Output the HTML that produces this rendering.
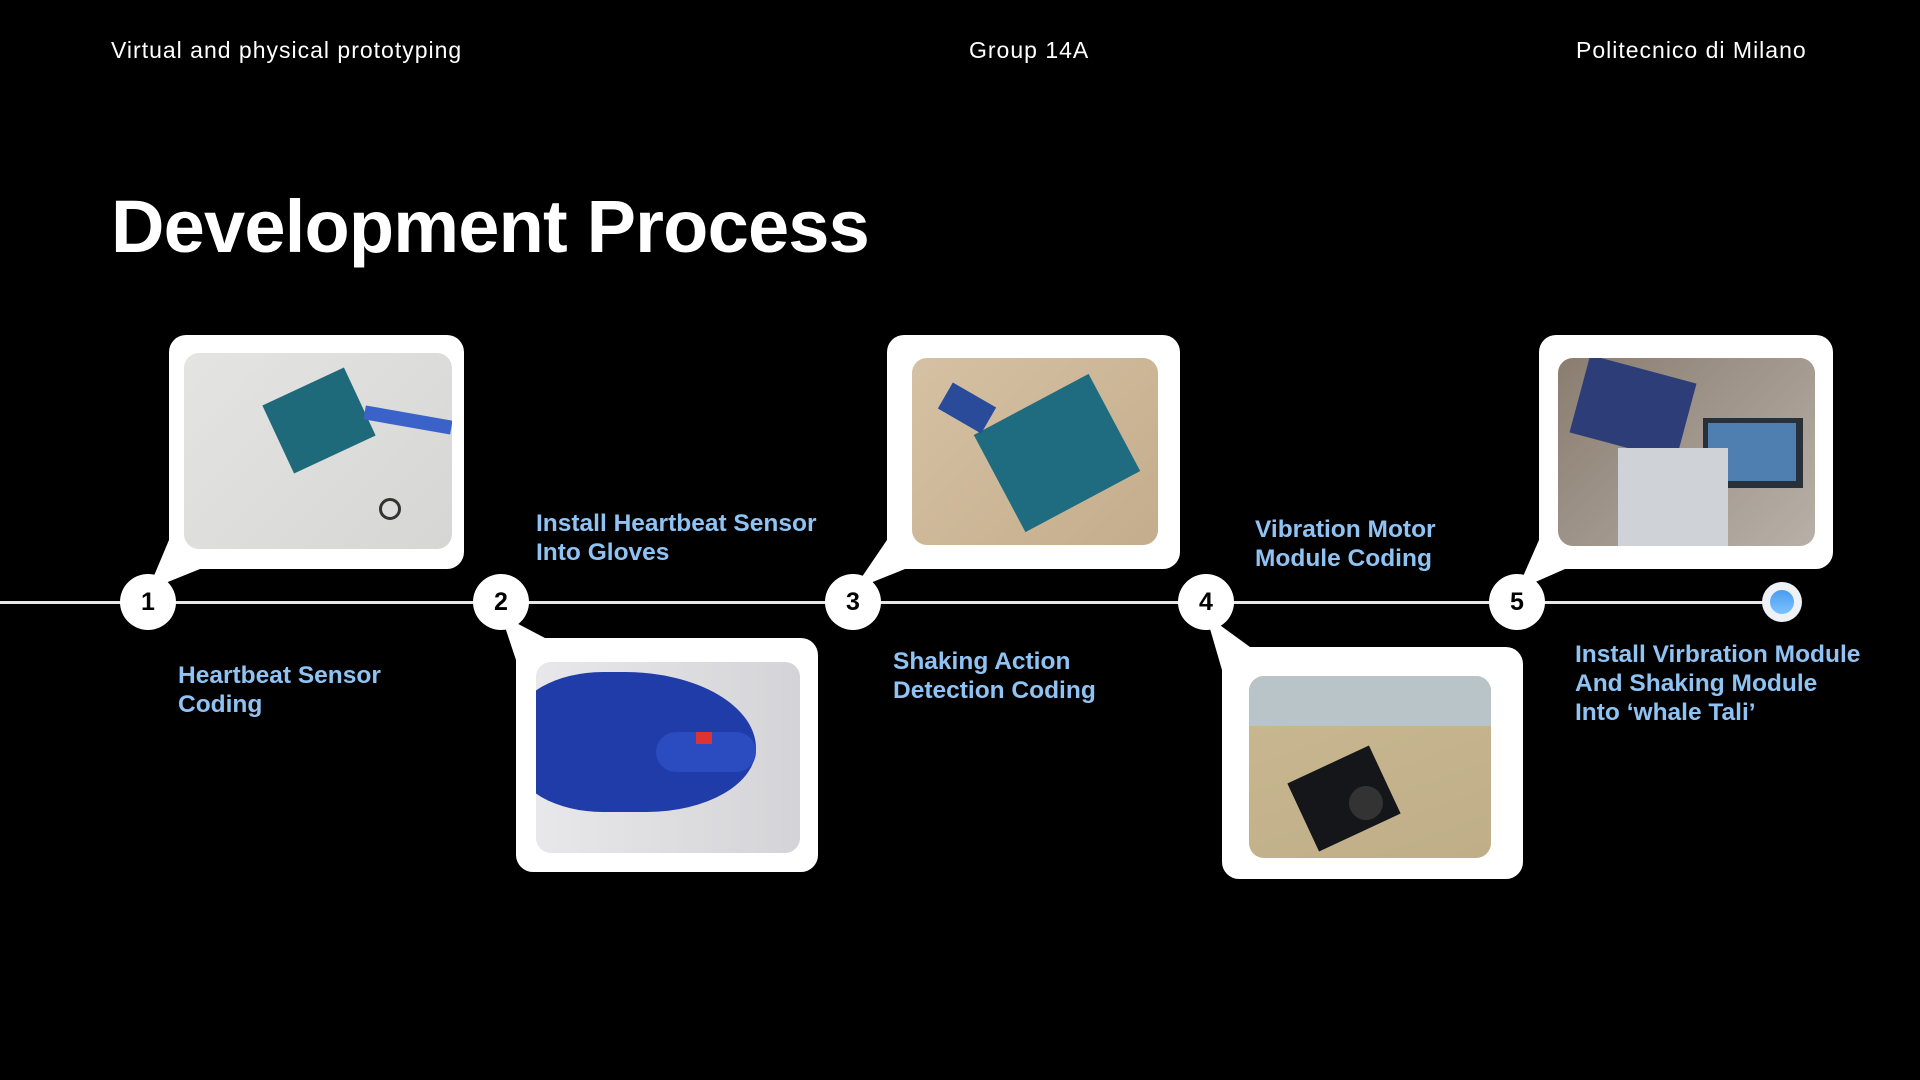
<!DOCTYPE html>
<html><head><meta charset="utf-8"><style>
*{margin:0;padding:0;box-sizing:border-box}
body{width:1920px;height:1080px;background:#000;position:relative;overflow:hidden;font-family:"Liberation Sans",sans-serif;color:#fff}
.h{position:absolute;top:37px;font-size:23px;letter-spacing:1px}
.title{position:absolute;left:111px;top:184px;font-size:74px;font-weight:bold;letter-spacing:-0.8px}
.line{position:absolute;left:0;top:601px;width:1782px;height:3px;background:#e8e8e8}
.c{position:absolute;width:56px;height:56px;border-radius:50%;background:#fff;color:#000;font-weight:bold;font-size:25px;text-align:center;line-height:56px;top:574px}
.card{position:absolute;background:#fff;border-radius:17px}
.img{position:absolute;border-radius:15px;overflow:hidden}
.lab{position:absolute;color:#8fc3f3;font-weight:bold;font-size:24.5px;line-height:29px}
svg{position:absolute;left:0;top:0}
</style></head><body>
<div class="h" style="left:111px">Virtual and physical prototyping</div>
<div class="h" style="left:969px">Group 14A</div>
<div class="h" style="left:1576px">Politecnico di Milano</div>
<div class="title">Development Process</div>

<svg width="1920" height="1080">
<polygon points="148,590 169,540 200,569" fill="#fff"/>
<polygon points="501,615 516,660 545,638" fill="#fff"/>
<polygon points="853,590 887,540 905,569" fill="#fff"/>
<polygon points="1206,615 1222,670 1250,647" fill="#fff"/>
<polygon points="1517,590 1539,540 1565,569" fill="#fff"/>
</svg>
<div class="line"></div>

<div class="card" style="left:169px;top:335px;width:295px;height:234px"></div>
<div class="img" style="left:184px;top:353px;width:268px;height:196px;background:linear-gradient(135deg,#e4e4e2,#d6d6d4)">
 <div style="position:absolute;left:90px;top:30px;width:90px;height:75px;background:#1e6a7a;transform:rotate(-25deg)"></div>
 <div style="position:absolute;left:180px;top:60px;width:88px;height:14px;background:#3a62c8;transform:rotate(10deg)"></div>
 <div style="position:absolute;left:195px;top:145px;width:22px;height:22px;border-radius:50%;background:#ddd;border:3px solid #333"></div>
</div>

<div class="card" style="left:516px;top:638px;width:302px;height:234px"></div>
<div class="img" style="left:536px;top:662px;width:264px;height:191px;background:linear-gradient(90deg,#e8e8ea,#d4d4d8)">
 <div style="position:absolute;left:-20px;top:10px;width:240px;height:140px;border-radius:40% 60% 50% 40%;background:#1f3ca8"></div>
 <div style="position:absolute;left:120px;top:70px;width:100px;height:40px;border-radius:20px;background:#2a4cc0"></div>
 <div style="position:absolute;left:160px;top:70px;width:16px;height:12px;background:#d33"></div>
</div>

<div class="card" style="left:887px;top:335px;width:293px;height:234px"></div>
<div class="img" style="left:912px;top:358px;width:246px;height:187px;background:linear-gradient(135deg,#d5c1a3,#c4ad8c)">
 <div style="position:absolute;left:80px;top:40px;width:130px;height:110px;background:#1f6b80;transform:rotate(-28deg)"></div>
 <div style="position:absolute;left:30px;top:35px;width:50px;height:30px;background:#2a4a9a;transform:rotate(30deg)"></div>
</div>

<div class="card" style="left:1222px;top:647px;width:301px;height:232px"></div>
<div class="img" style="left:1249px;top:676px;width:242px;height:182px;background:linear-gradient(160deg,#c9b890,#bfae88)">
 <div style="position:absolute;left:0;top:0;width:242px;height:50px;background:#b8c4c8"></div>
 <div style="position:absolute;left:50px;top:85px;width:90px;height:75px;background:#15161a;transform:rotate(-25deg)"></div>
 <div style="position:absolute;left:100px;top:110px;width:34px;height:34px;border-radius:50%;background:#333"></div>
</div>

<div class="card" style="left:1539px;top:335px;width:294px;height:234px"></div>
<div class="img" style="left:1558px;top:358px;width:257px;height:188px;background:linear-gradient(135deg,#8a7d70,#b8b0a8)">
 <div style="position:absolute;left:20px;top:10px;width:110px;height:80px;background:#2c3d78;transform:rotate(15deg)"></div>
 <div style="position:absolute;left:145px;top:60px;width:100px;height:70px;background:#28303a"></div>
 <div style="position:absolute;left:150px;top:65px;width:88px;height:58px;background:#4f7fb0"></div>
 <div style="position:absolute;left:60px;top:90px;width:110px;height:98px;background:#cfd2d6"></div>
</div>

<div class="c" style="left:120px">1</div>
<div class="c" style="left:473px">2</div>
<div class="c" style="left:825px">3</div>
<div class="c" style="left:1178px">4</div>
<div class="c" style="left:1489px">5</div>
<div style="position:absolute;left:1762px;top:582px;width:40px;height:40px;border-radius:50%;background:#eef1f5"></div>
<div style="position:absolute;left:1770px;top:590px;width:24px;height:24px;border-radius:50%;background:linear-gradient(#4a9cf0,#7cc2ff)"></div>

<div class="lab" style="left:178px;top:661px">Heartbeat Sensor<br>Coding</div>
<div class="lab" style="left:536px;top:509px">Install Heartbeat Sensor<br>Into Gloves</div>
<div class="lab" style="left:893px;top:647px">Shaking Action<br>Detection Coding</div>
<div class="lab" style="left:1255px;top:515px">Vibration Motor<br>Module Coding</div>
<div class="lab" style="left:1575px;top:640px">Install Virbration Module<br>And Shaking Module<br>Into ‘whale Tali’</div>
</body></html>
